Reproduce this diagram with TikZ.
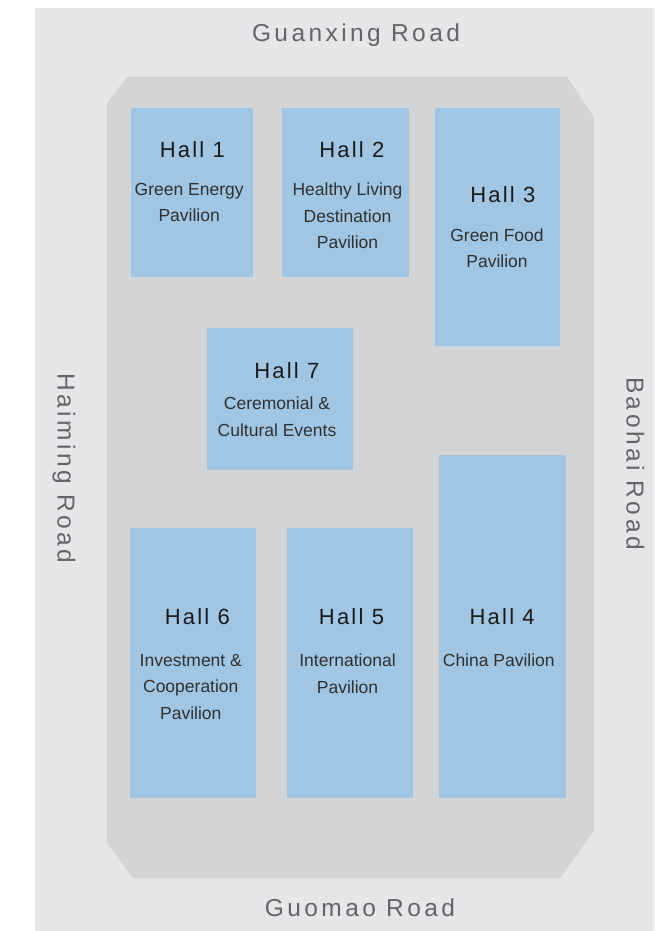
\documentclass[tikz,border=0pt]{standalone}
\usepackage{fontspec}
\setmainfont{Liberation Sans}
\newfontfamily\roadfont[LetterSpace=14]{Liberation Sans}
\newfontfamily\hallfont[LetterSpace=10]{Liberation Sans}
\definecolor{groundgray}{HTML}{E5E6E8}
\definecolor{sitegray}{HTML}{D3D4D6}
\definecolor{hallblue}{HTML}{A0C6E3}
\definecolor{roadgray}{HTML}{646568}
\definecolor{titleblack}{HTML}{1A1A1A}
\definecolor{subblack}{HTML}{303030}

\begin{document}
\begin{tikzpicture}[x=1pt, y=-1pt,
	hall/.style={fill=hallblue},
	title/.style={anchor=base, inner sep=0, text=titleblack, font=\hallfont\fontsize{22}{26}\selectfont},
	sub/.style={anchor=north, inner sep=0, align=center, text=subblack, font=\fontsize{17.5}{26.5}\selectfont},
	road/.style={anchor=base, inner sep=0, text=roadgray, font=\roadfont\fontsize{24.5}{28}\selectfont}]
	\useasboundingbox (0,0) rectangle (654,931);
	% ground and site
	\fill[groundgray] (35,8) rectangle (654,931);
	\fill[sitegray] (127,77)--(567,77)--(594,117)--(594,831)--(560,878)--(133,878)--(107,843)--(107,103)--cycle;
	% roads
	\node[road] (guanxing) at (356,42) {Guanxing Road};
	\node[road] (guomao) at (360,916.7) {Guomao Road};
	\node[road, rotate=-90] (haiming) at (57.5,468.5) {Haiming Road};
	\node[road, rotate=-90] (baohai) at (626.5,463.5) {Baohai Road};
	% halls
	\path[hall] (131,108) rectangle (253,277);
	\path[hall] (282,108) rectangle (409,277);
	\path[hall] (435,108) rectangle (560,346);
	\path[hall] (207,328) rectangle (353,470);
	\path[hall] (130,528) rectangle (256,798);
	\path[hall] (287,528) rectangle (413,798);
	\path[hall] (439,455) rectangle (566,798);
	% hall names
	\node[title] (t1) at (192.3,157.3) {Hall 1};
	\node[title] (t2) at (351.8,157.3) {Hall 2};
	\node[title] (t3) at (502.8,202.3) {Hall 3};
	\node[title] (t7) at (286.8,378.3) {Hall 7};
	\node[title] (t6) at (197.3,624) {Hall 6};
	\node[title] (t5) at (351.5,624) {Hall 5};
	\node[title] (t4) at (502.2,624) {Hall 4};
	% pavilions
	\node[sub] (s1) at (189.2,183) {Green Energy\\Pavilion};
	\node[sub] (s2) at (347.5,183) {Healthy Living\\Destination\\Pavilion};
	\node[sub] (s3) at (497,228.3) {Green Food\\Pavilion};
	\node[sub] (s7) at (277,396.7) {Ceremonial \&\\Cultural Events};
	\node[sub] (s6) at (190.8,654) {Investment \&\\Cooperation\\Pavilion};
	\node[sub] (s5) at (347.5,654) {International\\Pavilion};
	\node[sub] (s4) at (498.8,654) {China Pavilion};
\end{tikzpicture}
\end{document}
